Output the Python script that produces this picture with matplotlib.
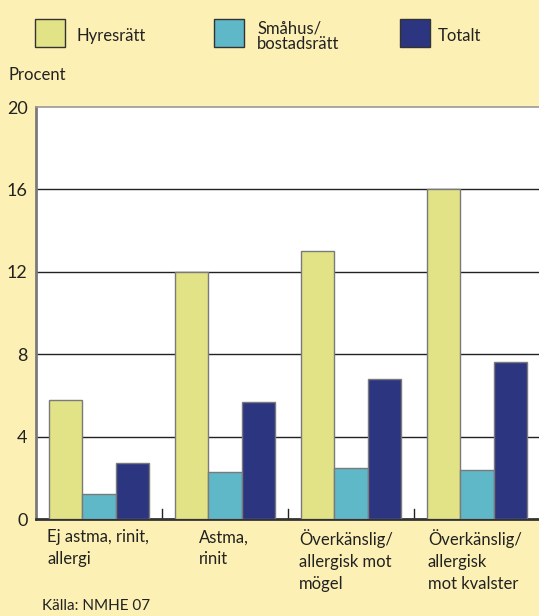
import matplotlib
matplotlib.use("Agg")
import matplotlib.pyplot as plt
from matplotlib.patches import Rectangle
import numpy as np

categories = ["Ej astma, rinit,\nallergi", "Astma,\nrinit", "Överkänslig/\nallergisk mot\nmögel", "Överkänslig/\nallergisk\nmot kvalster"]
series_names = ["Hyresrätt", "Småhus/\nbostadsrätt", "Totalt"]
hyresratt = [5.8, 12.0, 13.0, 16.0]
smahus = [1.2, 2.3, 2.5, 2.4]
totalt = [2.7, 5.7, 6.8, 7.6]
yticks = [0, 4, 8, 12, 16, 20]

colors = ["#E2E286", "#5FB8C8", "#2C3580"]
bg = "#FCF0B4"

plt.rcParams['font.family'] = ['Lato', 'DejaVu Sans']

fig = plt.figure(figsize=(5.39, 6.16), dpi=100, facecolor=bg)
ax = fig.add_axes([36/539, 1-519/616, 504/539, 412/616])
ax.set_facecolor("white")

x = np.arange(len(categories))
w = 0.267
for i, (vals, c) in enumerate(zip([hyresratt, smahus, totalt], colors)):
    ax.bar(x + (i - 1) * w, vals, w, color=c, edgecolor="#7a7a7a", linewidth=1.0, zorder=3)

ax.set_xlim(-0.5, len(categories) - 0.5)
ax.set_ylim(0, 20)
ax.set_yticks(yticks)
ax.set_yticklabels([str(t) for t in yticks], fontsize=13, color="#222222")
for t in yticks[1:-1]:
    ax.axhline(t, color="#222222", linewidth=1.0, zorder=1)
ax.tick_params(axis="y", length=0, pad=6)
ax.set_xticks([])
for b in x[:-1] + 0.5:
    ax.plot([b, b], [0, 0.5], color="#222222", linewidth=1.0, zorder=2, clip_on=False)

ax.spines["top"].set_color("#9a9a9a")
ax.spines["top"].set_linewidth(1.2)
ax.spines["right"].set_visible(False)
ax.spines["left"].set_color("#7a7a7a")
ax.spines["left"].set_linewidth(2.0)
ax.spines["bottom"].set_color("#333333")
ax.spines["bottom"].set_linewidth(2.0)

# category labels (left edge offsets in axis units, relative to group start)
label_offsets = [0.0, 0.2, 0.0, 0.02]
for xi, lab, off in zip(x, categories, label_offsets):
    ax.text(xi - 1.5 * w - 0.01 + off, -0.5, lab, ha="left", va="top", fontsize=12,
            color="#222222", linespacing=1.45, transform=ax.transData)

def px(xp, yp):
    return xp / 539, 1 - yp / 616

leg_items = [(35, 77), (214, 257), (400, 438)]
for (bx, tx), name, c in zip(leg_items, series_names, colors):
    x0, y0 = px(bx, 47)
    fig.patches.append(Rectangle((x0, y0), 30/539, 28/616, transform=fig.transFigure,
                                 facecolor=c, edgecolor="#333333", linewidth=1.0))
    tx0, ty0 = px(tx, 36)
    fig.text(tx0, ty0, name, ha="left", va="center", fontsize=12, color="#222222", linespacing=0.95)

fig.text(*px(9, 75), "Procent", ha="left", va="center", fontsize=12, color="#222222")
fig.text(*px(42, 606), "Källa: NMHE 07", ha="left", va="center", fontsize=11, color="#222222")

fig.savefig("out.png", dpi=100, facecolor=bg)
